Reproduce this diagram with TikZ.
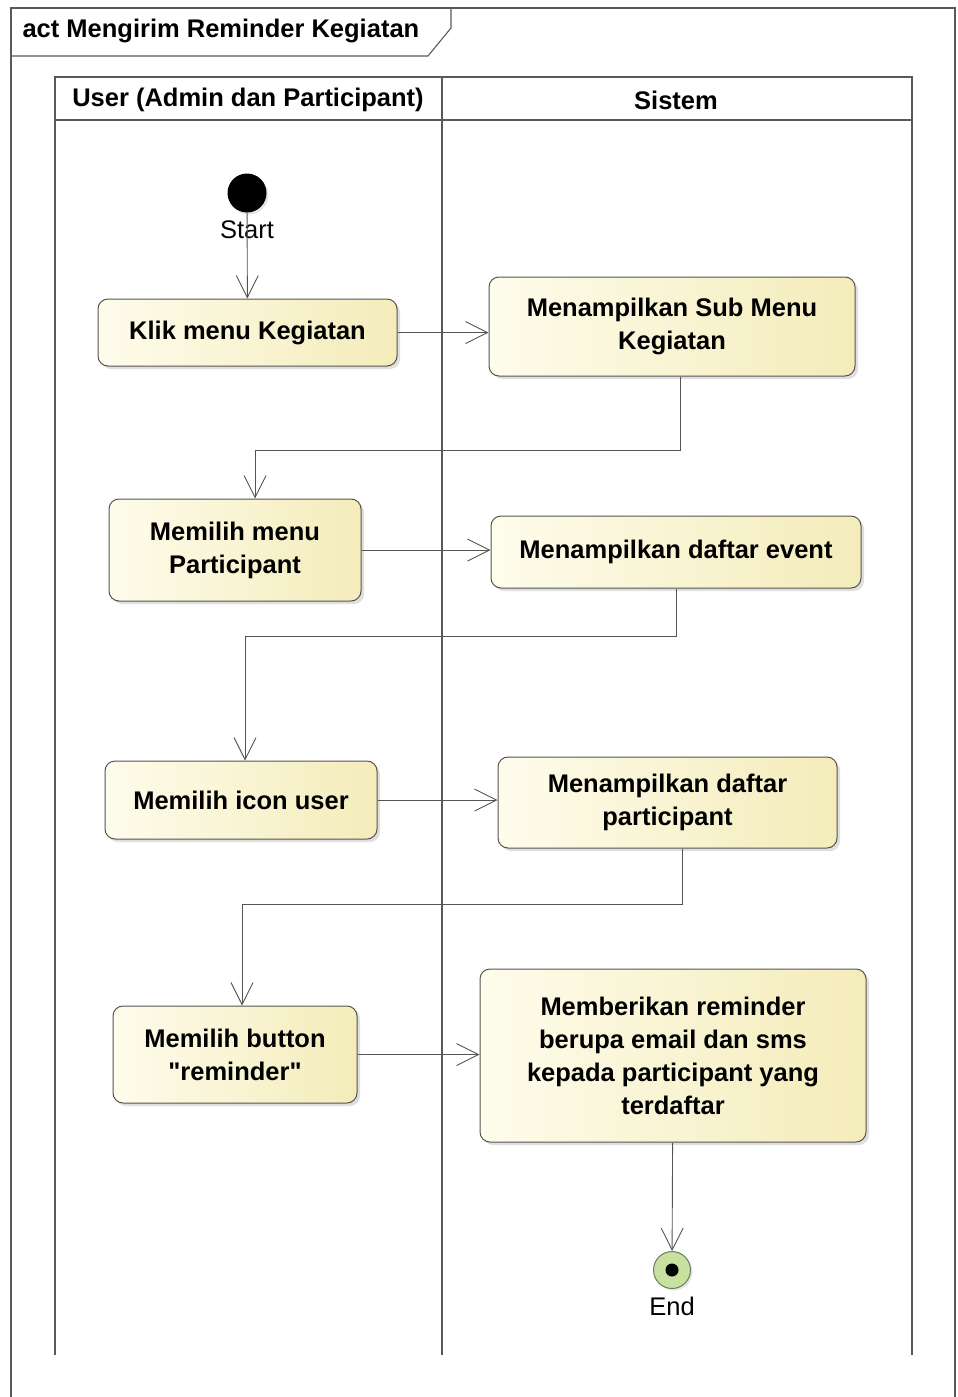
\documentclass[tikz,border=0pt]{standalone}
\usepackage{fontspec}
\setmainfont{Liberation Sans}
\usetikzlibrary{arrows.meta,positioning,shadows}
\definecolor{actleft}{RGB}{254,252,236}
\definecolor{actright}{RGB}{244,236,186}
\definecolor{actline}{RGB}{85,85,80}
\definecolor{endfill}{RGB}{200,224,160}
\definecolor{endline}{RGB}{105,125,90}
\tikzset{>={Straight Barb[length=22pt,width=22pt]},x=1pt,y=1pt}
\tikzset{
    action/.style={draw=actline,line width=1pt,rounded corners=10pt,
        left color=actleft,right color=actright,align=center,inner sep=0pt,
        font=\fontsize{25.5}{33}\selectfont\bfseries,
        drop shadow={shadow xshift=3pt,shadow yshift=-3pt,fill=black!25}},
    lanetext/.style={font=\fontsize{25.5}{30}\selectfont\bfseries},
    plain/.style={font=\fontsize{25.5}{30}\selectfont},
    flow/.style={->,draw=actline,line width=0.9pt},
    lane/.style={draw=black!65,line width=1.1pt}
}
\begin{document}
\begin{tikzpicture}
    \useasboundingbox (0,0) rectangle (958,-1397);
    \draw[lane] (11,-1397) -- (11,-8) -- (955,-8) -- (955,-1397);
    \draw[lane] (11,-56) -- (428,-56) -- (451,-28) -- (451,-8);
    \node[lanetext,anchor=west] (title) at (19,-31) {act Mengirim Reminder Kegiatan};
    \draw[lane] (55,-1355) -- (55,-77) -- (912,-77) -- (912,-1355);
    \draw[lane] (55,-120) -- (912,-120);
    \draw[lane] (442,-77) -- (442,-1355);
    \node[lanetext] (lane1) at (248,-100) {User (Admin dan Participant)};
    \node[lanetext] (lane2) at (676,-100) {Sistem};

    \node[circle,fill=black,minimum size=39pt,inner sep=0pt,
        drop shadow={shadow xshift=2pt,shadow yshift=-2pt,fill=black!20}] (start) at (247,-193) {};
    \node[plain] (startlbl) at (247,-230) {Start};

    \node[action,minimum width=299pt,minimum height=67pt] (klik) at (247.5,-332.5) {Klik menu Kegiatan};
    \node[action,minimum width=366pt,minimum height=99pt] (submenu) at (672,-326.5) {Menampilkan Sub Menu\\Kegiatan};
    \node[action,minimum width=252pt,minimum height=102pt] (pmenu) at (235,-550) {Memilih menu\\Participant};
    \node[action,minimum width=370pt,minimum height=72pt] (devent) at (676,-552) {Menampilkan daftar event};
    \node[action,minimum width=272pt,minimum height=78pt] (icon) at (241,-800) {Memilih icon user};
    \node[action,minimum width=339pt,minimum height=91pt] (dpart) at (667.5,-802.5) {Menampilkan daftar\\participant};
    \node[action,minimum width=244pt,minimum height=97pt] (button) at (235,-1054.5) {Memilih button\\\textquotedbl reminder\textquotedbl};
    \node[action,minimum width=386pt,minimum height=173pt] (beri) at (673,-1055.5) {Memberikan reminder\\berupa email dan sms\\kepada participant yang\\terdaftar};

    \node[circle,draw=endline,line width=1pt,fill=endfill,minimum size=37pt,inner sep=0pt,
        drop shadow={shadow xshift=2pt,shadow yshift=-2pt,fill=black!20}] (end) at (672,-1270) {};
    \node[circle,fill=black,minimum size=13pt,inner sep=0pt] (enddot) at (end) {};
    \node[plain] (endlbl) at (672,-1306) {End};

    \path[flow]
        (start) edge (klik)
        (klik) edge (klik -| submenu.west)
        (pmenu) edge (pmenu -| devent.west)
        (icon) edge (icon -| dpart.west)
        (button) edge (button -| beri.west)
        (beri) edge (end)
    ;
    \draw[flow] ([xshift=8pt]submenu.south) -- ++(0,-74) -| ([xshift=20pt]pmenu.north);
    \draw[flow] (devent.south) -- ++(0,-48) -| ([xshift=4pt]icon.north);
    \draw[flow] ([xshift=14.5pt]dpart.south) -- ++(0,-56) -| ([xshift=7pt]button.north);
\end{tikzpicture}
\end{document}
